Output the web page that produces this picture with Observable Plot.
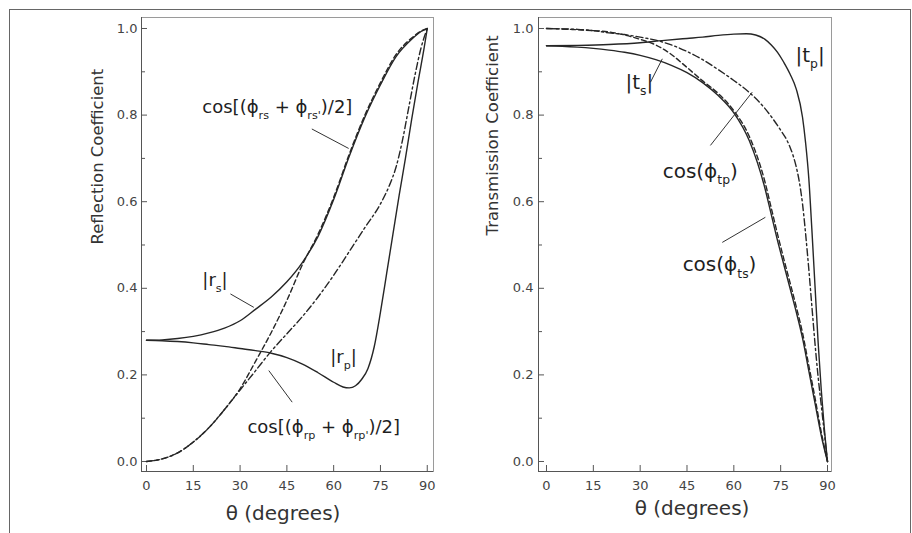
<!DOCTYPE html>
<html><head><meta charset="utf-8">
<script src="https://cdn.jsdelivr.net/npm/d3@7"></script>
<script src="https://cdn.jsdelivr.net/npm/@observablehq/plot@0.6"></script>
<style>
body{margin:0;background:#fff;}
#wrap{position:relative;width:912px;height:533px;overflow:hidden;background:#fff;}
#border{position:absolute;left:9px;top:9px;width:902px;height:600px;border:1px solid #666;box-sizing:border-box;}
.panel{position:absolute;top:0;}
</style></head><body>
<div id="wrap"><div id="border"></div></div>
<script>
// ---------- tick values ----------
const degTicks = [0, 15, 30, 45, 60, 75, 90];
const yMajor = [0, 0.2, 0.4, 0.6, 0.8, 1.0];
const yMinor = [0.1, 0.3, 0.5, 0.7, 0.9];

// ---------- Reflection panel data ----------
const rsAbsAng = [0,5,10,15,20,25,30,35,40,45,50,55,60,65,70,75,80,85,88,90];
const rsAbsVal = [0.280,0.281,0.284,0.289,0.297,0.308,0.325,0.352,0.38,0.415,0.46,0.52,0.605,0.705,0.795,0.87,0.935,0.975,0.993,1.0];

const rsCosAng = [0,5,10,15,20,25,30,35,40,45,50,55,60,65,70,75,80,85,88,90];
const rsCosVal = [0,0.006,0.02,0.045,0.078,0.12,0.168,0.232,0.298,0.372,0.455,0.525,0.61,0.71,0.80,0.875,0.94,0.978,0.994,1.0];

const rpAbsAng = [0,5,10,15,20,25,30,35,40,45,50,55,60,63,65,67,69,71,73,75,77,79,81,83,85,87,89,90];
const rpAbsVal = [0.280,0.279,0.277,0.274,0.270,0.266,0.261,0.256,0.250,0.240,0.225,0.205,0.183,0.172,0.170,0.175,0.190,0.215,0.265,0.345,0.435,0.525,0.615,0.70,0.79,0.875,0.955,1.0];

const rpCosAng = [0,5,10,15,20,25,30,35,40,45,50,55,60,65,70,75,78,80,82,84,86,88,90];
const rpCosVal = [0,0.006,0.02,0.045,0.078,0.12,0.165,0.21,0.255,0.295,0.335,0.38,0.43,0.485,0.54,0.595,0.64,0.68,0.74,0.815,0.89,0.955,1.0];

// ---------- Transmission panel data ----------
const tsAbsAng = [0,5,10,15,20,25,30,35,40,45,50,55,60,65,70,72,74,76,78,80,82,84,86,88,90];
const tsAbsVal = [0.96,0.959,0.957,0.954,0.95,0.945,0.938,0.928,0.915,0.898,0.875,0.845,0.805,0.74,0.63,0.57,0.51,0.455,0.40,0.345,0.285,0.21,0.135,0.06,0];

const tsCosAng = [0,5,10,15,20,25,30,35,40,45,50,55,60,65,70,72,74,76,78,80,82,84,86,88,90];
const tsCosVal = [1.0,0.999,0.997,0.995,0.992,0.985,0.975,0.962,0.94,0.91,0.879,0.85,0.81,0.75,0.645,0.585,0.525,0.468,0.413,0.357,0.297,0.222,0.147,0.068,0];

const tpCosAng = [0,5,10,15,20,25,30,35,40,45,50,55,60,65,70,75,77,78,79,80,81,82,83,84,85,86,87,88,89,90];
const tpCosVal = [1.0,0.999,0.998,0.995,0.99,0.986,0.98,0.973,0.962,0.947,0.928,0.905,0.88,0.852,0.815,0.765,0.742,0.726,0.706,0.68,0.645,0.595,0.525,0.445,0.358,0.272,0.195,0.13,0.065,0];

const tpAbsAng = [0,10,20,30,37,45,50,55,60,64,67,70,72,74,76,78,80,82,83,84,85,86,87,88,89,90];
const tpAbsVal = [0.96,0.961,0.963,0.967,0.972,0.977,0.98,0.984,0.987,0.988,0.985,0.975,0.962,0.945,0.922,0.895,0.86,0.795,0.735,0.655,0.535,0.405,0.275,0.165,0.075,0];

// ---------- annotations (data units) ----------
const leftLabels = [
  {x: 17.9, y: 0.819, t: "cos[(ϕ_{rs} + ϕ_{rs'})/2]"},
  {x: 17.9, y: 0.418, t: "|r_{s}|"},
  {x: 58.9, y: 0.240, t: "|r_{p}|"},
  {x: 32.35, y: 0.0785, t: "cos[(ϕ_{rp} + ϕ_{rp'})/2]"}
];
const leftLeaders = [
  {x1: 53.0, y1: 0.768, x2: 64.8, y2: 0.723},
  {x1: 26.9, y1: 0.387, x2: 34.4, y2: 0.356},
  {x1: 39.2, y1: 0.210, x2: 46.7, y2: 0.137}
];
const rightLabels = [
  {x: 79.75, y: 0.938, t: "|t_{p}|"},
  {x: 25.3, y: 0.876, t: "|t_{s}|"},
  {x: 37.2, y: 0.670, t: "cos(ϕ_{tp})"},
  {x: 43.6, y: 0.454, t: "cos(ϕ_{ts})"}
];
const rightLeaders = [
  {x1: 33.3, y1: 0.876, x2: 37.1, y2: 0.930},
  {x1: 52.5, y1: 0.730, x2: 65.9, y2: 0.853},
  {x1: 56.3, y1: 0.506, x2: 70.1, y2: 0.564}
];

function series(ang, val) { return ang.map((a, i) => ({a, v: val[i]})); }

const INK = "#262626";
const SOLID = null, DASH = "5,3", DASHDOT = "7,3,2,3";

function panel(cfg) {
  const {xd, yd, mL, mR, lines, labels, leaders, ytitle, ytDx, ytDy, xtDx, xtDy, lblSize, tickPad} = cfg;
  const marks = [
    Plot.frame({stroke: "#9a9a9a"}),
    Plot.ruleX([xd[0]], {stroke: "#555"}),
    Plot.ruleY([yd[0]], {stroke: "#555"}),
    Plot.ruleY(yMajor, {y: d => d, x1: xd[0], x2: xd[0], insetRight: -6, stroke: "#555"}),
    Plot.ruleY(yMinor, {y: d => d, x1: xd[0], x2: xd[0], insetRight: -4, stroke: "#555"}),
    Plot.ruleX(degTicks, {x: d => d, y1: yd[0], y2: yd[0], insetBottom: 6, stroke: "#555"}),
    Plot.axisY({ticks: yMajor, tickFormat: d3.format(".1f"), tickSize: 0, tickPadding: tickPad, label: null, fontSize: 13, color: "#444"}),
    Plot.axisX({ticks: degTicks, tickSize: 0, tickPadding: 9, label: null, fontSize: 13, color: "#444"}),
    ...lines.map(l => Plot.line(series(l.ang, l.val), {x: "a", y: "v", stroke: INK, strokeWidth: 1.4, strokeDasharray: l.dash, curve: "monotone-x"})),
    Plot.link(leaders, {x1: "x1", y1: "y1", x2: "x2", y2: "y2", stroke: "#333", strokeWidth: 1}),
    Plot.text(labels, {x: "x", y: "y", text: "t", textAnchor: "start", fontSize: lblSize, fill: "#1e1e1e"}),
    Plot.text([ytitle], {frameAnchor: "left", rotate: -90, dx: ytDx, dy: ytDy, fontSize: 16.5, fill: "#333"}),
    Plot.text(["θ (degrees)"], {frameAnchor: "bottom", dx: xtDx, dy: xtDy, fontSize: 20, fill: "#333"})
  ];
  const svg = Plot.plot({
    width: 456, height: 533,
    marginLeft: mL, marginRight: mR, marginTop: 17, marginBottom: 62,
    x: {domain: xd}, y: {domain: yd},
    style: {fontFamily: "DejaVu Sans", background: "transparent", overflow: "visible"},
    marks
  });
  // subscripts: turn "_{..}" into lowered, smaller tspans
  const off = lblSize * 0.33;
  svg.querySelectorAll("text").forEach(t => {
    const s = t.textContent;
    if (!s.includes("_{")) return;
    const parts = s.split(/_\{([^}]*)\}/);
    while (t.firstChild) t.removeChild(t.firstChild);
    let shifted = false;
    parts.forEach((p, i) => {
      const isSub = i % 2 === 1;
      if (!p) return;
      const ts = document.createElementNS("http://www.w3.org/2000/svg", "tspan");
      ts.textContent = p;
      if (isSub) {
        ts.setAttribute("font-size", (lblSize * 0.62) + "px");
        if (!shifted) { ts.setAttribute("dy", off); shifted = true; }
      } else if (shifted) {
        ts.setAttribute("dy", -off); shifted = false;
      }
      t.appendChild(ts);
    });
  });
  return svg;
}

const left = panel({
  xd: [-1.6, 92], yd: [-0.0231, 1.0254], mL: 141, mR: 23,
  lines: [
    {ang: rsAbsAng, val: rsAbsVal, dash: SOLID},
    {ang: rpAbsAng, val: rpAbsVal, dash: SOLID},
    {ang: rsCosAng, val: rsCosVal, dash: DASH},
    {ang: rpCosAng, val: rpCosVal, dash: DASHDOT}
  ],
  labels: leftLabels, leaders: leftLeaders,
  ytitle: "Reflection Coefficient", ytDx: -43.5, ytDy: 0, xtDx: -4.5, xtDy: 48, lblSize: 18, tickPad: 4
});
const right = panel({
  xd: [-2.56, 91.28], yd: [-0.0231, 1.0254], mL: 82, mR: 81,
  lines: [
    {ang: tsAbsAng, val: tsAbsVal, dash: SOLID},
    {ang: tpAbsAng, val: tpAbsVal, dash: SOLID},
    {ang: tsCosAng, val: tsCosVal, dash: DASH},
    {ang: tpCosAng, val: tpCosVal, dash: DASHDOT}
  ],
  labels: rightLabels, leaders: rightLeaders,
  ytitle: "Transmission Coefficient", ytDx: -45.5, ytDy: -9, xtDx: 7, xtDy: 43, lblSize: 20, tickPad: 5
});
left.setAttribute("class", "panel"); left.style.left = "0px";
right.setAttribute("class", "panel"); right.style.left = "456px";
const wrap = document.getElementById("wrap");
wrap.appendChild(left);
wrap.appendChild(right);
</script>
</body></html>
